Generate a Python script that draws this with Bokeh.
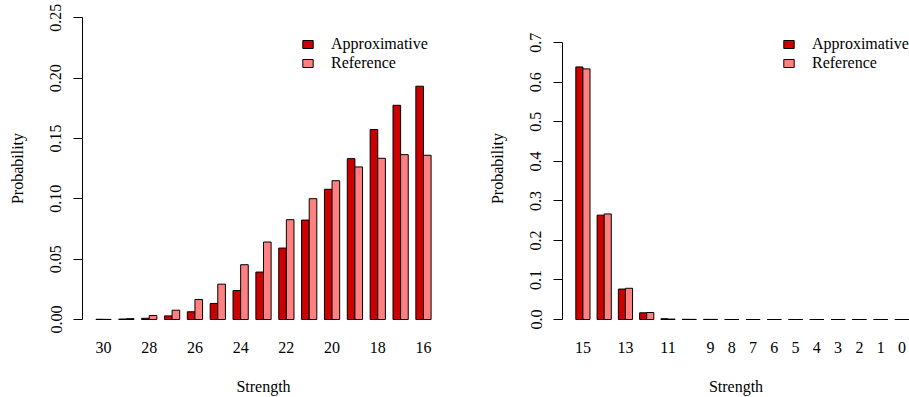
from bokeh.plotting import figure
from bokeh.layouts import row
from bokeh.models import (Range1d, FixedTicker, PrintfTickFormatter, Legend, LegendItem,
                          ColumnDataSource)
from bokeh.embed import file_html
from bokeh.resources import INLINE

# ---------------- data ----------------
left_strength = [30, 29, 28, 27, 26, 25, 24, 23, 22, 21, 20, 19, 18, 17, 16]
left_approx = [0.0002, 0.0004, 0.0010, 0.0030, 0.0064, 0.0133, 0.0240, 0.0393,
               0.0592, 0.0824, 0.1079, 0.1333, 0.1574, 0.1775, 0.1933]
left_ref = [0.0001, 0.0007, 0.0033, 0.0077, 0.0166, 0.0293, 0.0454, 0.0642,
            0.0827, 0.1001, 0.1150, 0.1264, 0.1336, 0.1366, 0.1361]
left_shown_labels = ["30", "28", "26", "24", "22", "20", "18", "16"]
left_yticks = [0.0, 0.05, 0.10, 0.15, 0.20, 0.25]

right_strength = [15, 14, 13, 12, 11, 10, 9, 8, 7, 6, 5, 4, 3, 2, 1, 0]
right_approx = [0.639, 0.264, 0.077, 0.017, 0.002, 0.0005, 0.0003, 0.0, 0.0,
                0.0, 0.0, 0.0, 0.0, 0.0, 0.0, 0.0]
right_ref = [0.634, 0.267, 0.079, 0.0177, 0.001, 0.0003, 0.0002, 0.0, 0.0,
             0.0, 0.0, 0.0, 0.0, 0.0, 0.0, 0.0]
right_shown_labels = ["15", "13", "11", "9", "8", "7", "6", "5", "4", "3", "2", "1", "0"]
right_yticks = [0.0, 0.1, 0.2, 0.3, 0.4, 0.5, 0.6, 0.7]

series_names = ["Approximative", "Reference"]
COL_A = "#CD0000"
COL_R = "#FF8080"
FONT = "Liberation Serif"
FS = "16px"

H = 397
FRAME_TOP = 5
FRAME_BOTTOM = 331


def make_panel(strength, approx, ref, shown, yticks, yfmt, xr, yr, width,
               mb_left, mb_right, legend_loc):
    n = len(strength)
    xa = [1.5 + 3 * k for k in range(n)]
    xb = [2.5 + 3 * k for k in range(n)]
    centers = {str(s): 2 + 3 * k for k, s in enumerate(strength)}

    p = figure(width=width, height=H, output_backend="svg", toolbar_location=None,
               x_range=Range1d(*xr), y_range=Range1d(*yr),
               min_border_left=mb_left, min_border_right=mb_right,
               min_border_top=FRAME_TOP, min_border_bottom=H - FRAME_BOTTOM)
    p.outline_line_color = None
    p.xgrid.grid_line_color = None
    p.ygrid.grid_line_color = None
    p.background_fill_color = "white"
    p.border_fill_color = "white"

    sa = ColumnDataSource(dict(x=xa, top=approx))
    sr = ColumnDataSource(dict(x=xb, top=ref))
    ra = p.vbar(x="x", top="top", bottom=0, width=1, source=sa,
                fill_color=COL_A, line_color="black", line_width=1)
    rr = p.vbar(x="x", top="top", bottom=0, width=1, source=sr,
                fill_color=COL_R, line_color="black", line_width=1)

    # x axis: labels only
    xax = p.xaxis[0]
    xax.ticker = FixedTicker(ticks=[centers[s] for s in shown])
    xax.major_label_overrides = {centers[s]: s for s in shown}
    xax.axis_line_color = None
    xax.major_tick_line_color = None
    xax.minor_tick_line_color = None
    xax.major_tick_out = 0
    xax.major_label_standoff = 10
    xax.major_label_text_font = FONT
    xax.major_label_text_font_size = FS
    xax.major_label_text_color = "black"
    xax.axis_label = "Strength"
    xax.axis_label_text_font = FONT
    xax.axis_label_text_font_size = FS
    xax.axis_label_text_font_style = "normal"
    xax.axis_label_text_color = "black"
    xax.axis_label_standoff = 22

    yax = p.yaxis[0]
    yax.ticker = FixedTicker(ticks=yticks)
    yax.formatter = PrintfTickFormatter(format=yfmt)
    yax.bounds = (yticks[0], yticks[-1])
    yax.axis_line_color = "black"
    yax.major_tick_line_color = "black"
    yax.minor_tick_line_color = None
    yax.major_tick_out = 9
    yax.major_tick_in = 0
    yax.major_label_orientation = "vertical"
    yax.major_label_standoff = 12
    yax.major_label_text_font = FONT
    yax.major_label_text_font_size = FS
    yax.major_label_text_color = "black"
    yax.axis_label = "Probability"
    yax.axis_label_text_font = FONT
    yax.axis_label_text_font_size = FS
    yax.axis_label_text_font_style = "normal"
    yax.axis_label_text_color = "black"
    yax.axis_label_standoff = 22

    legend = Legend(items=[LegendItem(label=series_names[0], renderers=[ra]),
                           LegendItem(label=series_names[1], renderers=[rr])],
                    location=legend_loc, padding=0, margin=0, spacing=0,
                    glyph_width=13, glyph_height=10, label_height=19,
                    label_standoff=17, border_line_color=None,
                    background_fill_alpha=0,
                    label_text_font=FONT, label_text_font_size=FS,
                    label_text_color="black")
    p.add_layout(legend)
    return p


# left panel: frame x 82..444
y0_left, ytop_left = 319.0, 17.3
ppu_l = (y0_left - ytop_left) / 0.25
yr_l = (-(FRAME_BOTTOM - y0_left) / ppu_l, 0.25 + (ytop_left - FRAME_TOP) / ppu_l)
p1 = make_panel(left_strength, left_approx, left_ref, left_shown_labels, left_yticks,
                "%.2f", (-0.76, 46.76), yr_l, 460, 82, 16, (219, 259))

# right panel: frame x 562..909
y0_r, ytop_r = 319.0, 42.3
ppu_r = (y0_r - ytop_r) / 0.7
yr_r = (-(FRAME_BOTTOM - y0_r) / ppu_r, 0.7 + (ytop_r - FRAME_TOP) / ppu_r)
ppx = 319.0 / 45.0
xr_r = (-0.88, -0.88 + (909 - 562) / ppx)
p2 = make_panel(right_strength, right_approx, right_ref, right_shown_labels, right_yticks,
                "%.1f", xr_r, yr_r, 449, 102, 0, (220, 259))

layout = row(p1, p2, spacing=0)
open("out.html", "w").write(file_html(layout, INLINE))
